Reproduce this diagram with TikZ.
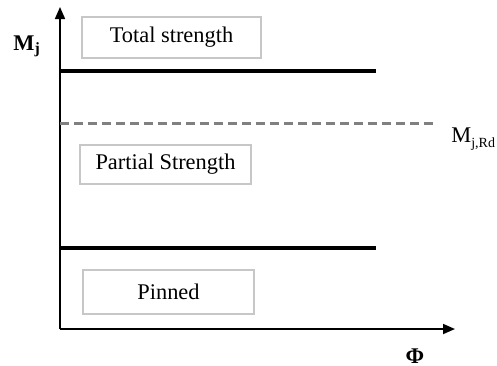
\documentclass[tikz,border=0pt]{standalone}
\usepackage{fontspec}
\setmainfont{Liberation Serif}
\usetikzlibrary{arrows.meta}
\newcommand{\subtxt}[1]{\raisebox{-2.6pt}{\fontsize{7}{8}\selectfont #1}}
\begin{document}
\begin{tikzpicture}[x=0.5pt,y=-0.5pt,
  font=\fontsize{11.2}{13.4}\selectfont,
  axis/.style={line width=0.85pt,-{Triangle[length=6pt,width=5pt]}},
  limitline/.style={line width=2pt},
  rdline/.style={line width=1.5pt,draw=gray,dash pattern=on 4.5pt off 2.5pt},
  zonebox/.style={draw=black!22,line width=0.6pt,inner sep=0pt,minimum width=#1,minimum height=20pt},
  lbl/.style={inner sep=0pt}]
\useasboundingbox (0,0) rectangle (497,365);
% axes
\coordinate (o) at (60,329);
\coordinate (ytop) at (60,7);
\coordinate (xend) at (455,329);
\draw[axis] (o) -- (ytop);
\draw[axis] (o) -- (xend);
% boundary lines
\coordinate (t1) at (60,71);   \coordinate (t2) at (376,71);
\coordinate (b1) at (60,248);  \coordinate (b2) at (376,248);
\coordinate (r1) at (60,123);  \coordinate (r2) at (433,123);
\draw[limitline] (t1) -- (t2);
\draw[limitline] (b1) -- (b2);
\draw[rdline] (r1) -- (r2);
% zone labels
\node[zonebox=89.5pt,minimum height=20.5pt] (total) at (171.5,37.5) {Total strength};
\node[zonebox=85.5pt,minimum height=19.5pt] (partial) at (165.5,164.5) {Partial Strength};
\node[zonebox=85.5pt,minimum height=22pt] (pinned) at (168.5,292) {Pinned};
% axis labels
\node[lbl,anchor=base west] (mj) at (13,50) {\textbf{M}\textsubscript{\textbf{j}}};
\node[lbl,anchor=base west] (mjrd) at (451,142) {M\subtxt{j,Rd}};
\node[lbl,anchor=base] (phi) at (415,363) {\textbf{Φ}};
\end{tikzpicture}
\end{document}
